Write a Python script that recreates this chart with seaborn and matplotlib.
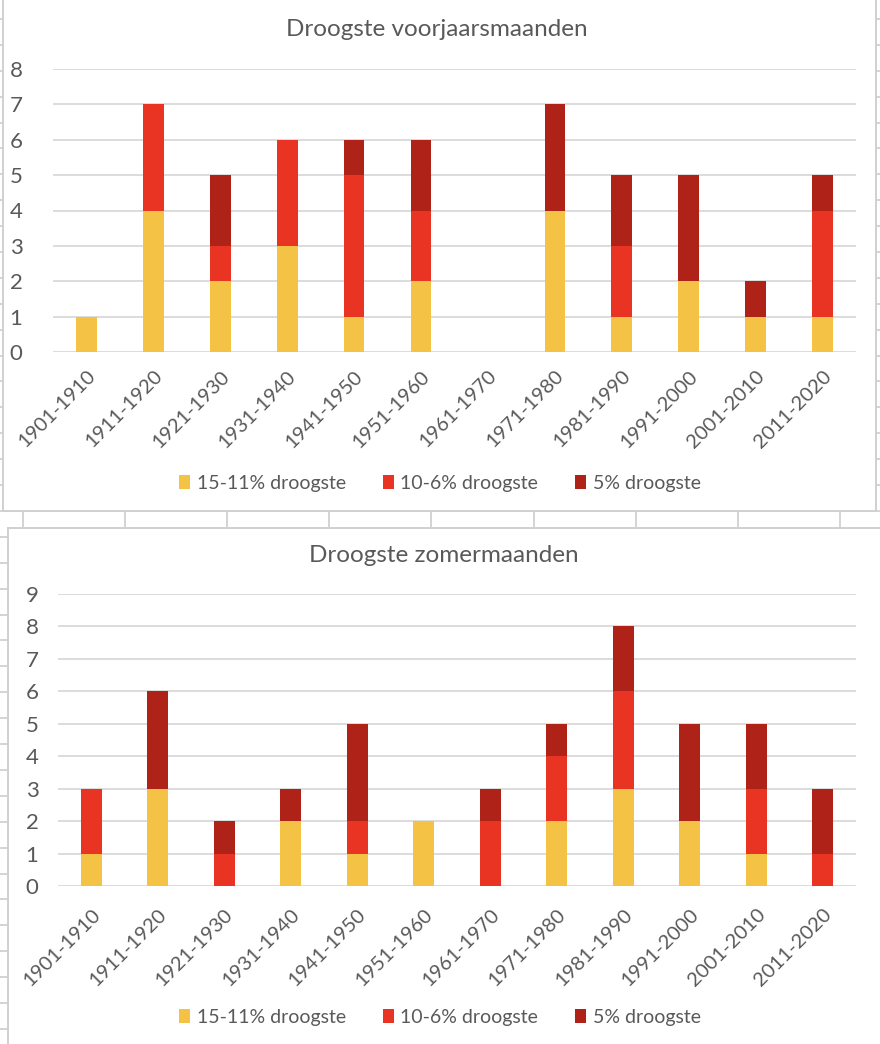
import matplotlib
matplotlib.use("Agg")
import matplotlib.pyplot as plt
from matplotlib.patches import Patch, Rectangle
from matplotlib.transforms import ScaledTranslation
import pandas as pd
import seaborn as sns

# data
periods = ["1901-1910", "1911-1920", "1921-1930", "1931-1940", "1941-1950", "1951-1960",
           "1961-1970", "1971-1980", "1981-1990", "1991-2000", "2001-2010", "2011-2020"]
spring_15_11 = [1, 4, 2, 3, 1, 2, 0, 4, 1, 2, 1, 1]
spring_10_6 = [0, 3, 1, 3, 4, 2, 0, 0, 2, 0, 0, 3]
spring_5 = [0, 0, 2, 0, 1, 2, 0, 3, 2, 3, 1, 1]
summer_15_11 = [1, 3, 0, 2, 1, 2, 0, 2, 3, 2, 1, 0]
summer_10_6 = [2, 0, 1, 0, 1, 0, 2, 2, 3, 0, 2, 1]
summer_5 = [0, 3, 1, 1, 3, 0, 1, 1, 2, 3, 2, 2]
series_labels = ["15-11% droogste", "10-6% droogste", "5% droogste"]
colors = ["#F4C244", "#E93323", "#AE2217"]

TXT = "#595959"
GRID = "#d9d9d9"

sns.set_style("white")
plt.rcParams["font.family"] = ["Lato", "DejaVu Sans"]

W, H = 880, 1044
fig = plt.figure(figsize=(W / 100, H / 100), dpi=100)

# spreadsheet background with the two chart panels
bg = fig.add_axes([0, 0, 1, 1])
bg.set_zorder(-1)
bg.set_xlim(0, W)
bg.set_ylim(H, 0)
bg.axis("off")
y = 511 - 25.9 * 20
while y < H:
    bg.plot([0, W], [y, y], color="#d4d4d4", lw=1.4, zorder=1)
    y += 25.9
for k in range(9):
    x = 23 + 102.1 * k
    bg.plot([x, x], [0, H], color="#d4d4d4", lw=1.4, zorder=1)
bg.add_patch(Rectangle((3, -10), 873, 521, facecolor="white", edgecolor="#d0d0d0",
                       lw=1.4, zorder=3))
bg.add_patch(Rectangle((8, 528), 890, 530, facecolor="white", edgecolor="#d0d0d0",
                       lw=1.4, zorder=3))


def draw_stacked(ax, low, mid, high, ymax, ypad, xpad):
    df = pd.DataFrame({"periode": periods, "low": low, "mid": mid, "high": high})
    df["c1"] = df["low"]
    df["c2"] = df["low"] + df["mid"]
    df["c3"] = df["c2"] + df["high"]
    # draw totals first, then overlay the lower parts
    for col, color in zip(["c3", "c2", "c1"], colors[::-1]):
        sns.barplot(data=df, x="periode", y=col, color=color, width=0.31, ax=ax,
                    saturation=1, errorbar=None, linewidth=0)
    ax.set_xlim(-0.5, len(periods) - 0.5)
    ax.set_ylim(0, ymax)
    ax.set_yticks(range(0, ymax + 1))
    ax.set_xticks(range(len(periods)))
    ax.set_xticklabels(periods, rotation=45, ha="right", va="top", rotation_mode="anchor")
    shift = ScaledTranslation(0.06, 0, fig.dpi_scale_trans)
    for lbl in ax.get_xticklabels():
        lbl.set_transform(lbl.get_transform() + shift)
    ax.set_xlabel("")
    ax.set_ylabel("")
    ax.yaxis.grid(True, color=GRID, lw=1.3)
    ax.set_axisbelow(True)
    for s in ax.spines.values():
        s.set_visible(False)
    ax.tick_params(axis="x", length=0, labelsize=14.5, colors=TXT, pad=xpad)
    ax.tick_params(axis="y", length=0, labelsize=16, colors=TXT, pad=ypad)
    ax.set_facecolor("none")


def add_legend(ypos):
    handles = [Patch(facecolor=c, edgecolor="none", label=l) for c, l in zip(colors, series_labels)]
    fig.legend(handles=handles, loc="center", bbox_to_anchor=(0.5, ypos), ncol=3, frameon=False,
               fontsize=14, labelcolor=TXT, handlelength=0.55, handleheight=0.75,
               handletextpad=0.35, columnspacing=1.9)


ax1 = fig.add_axes([53 / W, 1 - 352 / H, 803 / W, 283 / H])
draw_stacked(ax1, spring_15_11, spring_10_6, spring_5, 8, 22, 11)
fig.text(437 / W, 1 - 30 / H, "Droogste voorjaarsmaanden", ha="center", va="center",
         fontsize=17.5, color=TXT)
add_legend(1 - 483 / H)

ax2 = fig.add_axes([58 / W, 1 - 886 / H, 798 / W, 292 / H])
draw_stacked(ax2, summer_15_11, summer_10_6, summer_5, 9, 14, 14)
fig.text(444 / W, 1 - 556 / H, "Droogste zomermaanden", ha="center", va="center",
         fontsize=17.5, color=TXT)
add_legend(1 - 1017 / H)

fig.savefig("out.png", dpi=100)
